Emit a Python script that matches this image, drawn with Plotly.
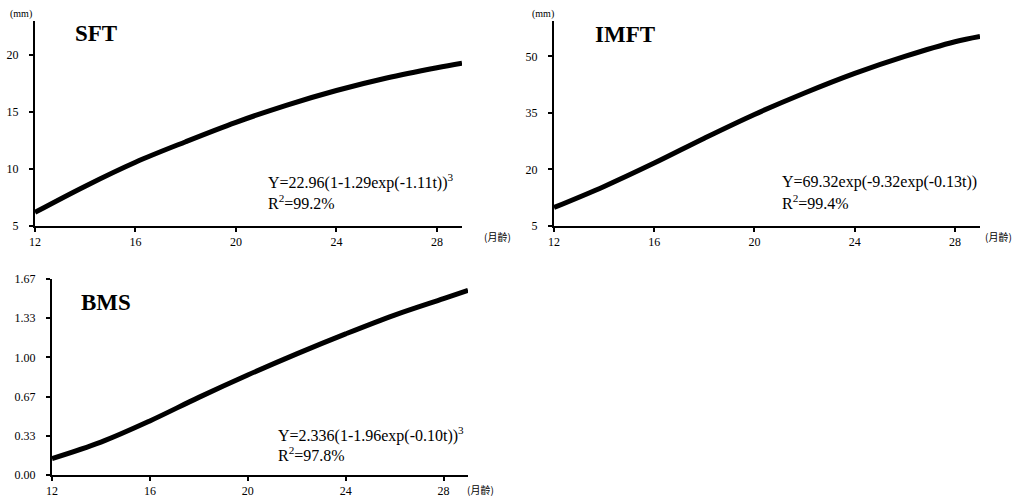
import plotly.graph_objects as go

# ---------------- data ----------------
months = [12, 14, 16, 18, 20, 22, 24, 26, 28, 29]
sft = [6.2, 8.5, 10.6, 12.4, 14.1, 15.6, 16.9, 18.0, 18.9, 19.3]
imft = [9.9, 15.5, 21.7, 28.3, 34.6, 40.3, 45.5, 50.0, 53.9, 55.3]
bms = [0.14, 0.28, 0.46, 0.66, 0.85, 1.03, 1.20, 1.36, 1.50, 1.57]

x_ticks = [12, 16, 20, 24, 28]
sft_ticks = [5, 10, 15, 20]
imft_ticks = [5, 20, 35, 50]
bms_tickvals = [0, 1 / 3, 2 / 3, 1, 4 / 3, 5 / 3]
bms_ticktext = ["0.00", "0.33", "0.67", "1.00", "1.33", "1.67"]

titles = ["SFT", "IMFT", "BMS"]
equations = [
    "Y=22.96(1-1.29exp(-1.11t))<sup>3</sup>",
    "Y=69.32exp(-9.32exp(-0.13t))",
    "Y=2.336(1-1.96exp(-0.10t))<sup>3</sup>",
]
r2 = ["R<sup>2</sup>=99.2%", "R<sup>2</sup>=99.4%", "R<sup>2</sup>=97.8%"]

FONT = "Liberation Serif"
W, H = 1025, 499

fig = go.Figure()
series = [sft, imft, bms]
for i, ys in enumerate(series):
    sfx = "" if i == 0 else str(i + 1)
    fig.add_trace(go.Scatter(
        x=months, y=ys, mode="lines", line=dict(color="black", width=5, shape="spline"),
        xaxis="x" + sfx, yaxis="y" + sfx, showlegend=False, hoverinfo="skip"))

# pixel boxes: (left, right, top, bottom)
boxes = [(35, 462, 21, 226), (554, 980, 21, 226), (52, 468, 279, 475)]


def dom(b):
    l, r, t, btm = b
    return [l / W, r / W], [1 - btm / H, 1 - t / H]


axis_common = dict(showgrid=False, zeroline=False, showline=True, linecolor="black",
                   linewidth=2, ticks="outside", tickcolor="black", tickwidth=1.5,
                   ticklen=4, automargin=False,
                   tickfont=dict(family=FONT, size=12, color="black"))

yranges = [[5, 23], [5, 59.4], [0, 5 / 3]]
layout = dict(width=W, height=H, margin=dict(l=0, r=0, t=0, b=0, autoexpand=False),
              plot_bgcolor="white", paper_bgcolor="white", showlegend=False)
for i, b in enumerate(boxes):
    xd, yd = dom(b)
    sfx = "" if i == 0 else str(i + 1)
    layout["xaxis" + sfx] = dict(axis_common, domain=xd, range=[12, 29], tickvals=x_ticks,
                                 anchor="y" + sfx)
    ya = dict(axis_common, domain=yd, range=yranges[i], anchor="x" + sfx, ticklabelstandoff=8)
    if i == 0:
        ya["tickvals"] = sft_ticks
    elif i == 1:
        ya["tickvals"] = imft_ticks
    else:
        ya["tickvals"] = bms_tickvals
        ya["ticktext"] = bms_ticktext
    layout["yaxis" + sfx] = ya
fig.update_layout(**layout)


def px(x, y):
    return x / W, 1 - y / H


ann = []
# titles
for (tx, ty), t in zip([(73, 34), (593, 35), (79, 302)], titles):
    x, y = px(tx, ty)
    ann.append(dict(x=x, y=y, xref="paper", yref="paper", text="<b>" + t + "</b>",
                    showarrow=False, xanchor="left", yanchor="middle",
                    font=dict(family=FONT, size=23, color="black")))
# equations
for (ex, ey), e, r in zip([(266, 182), (780, 182), (276, 434)], equations, r2):
    x, y = px(ex, ey)
    ann.append(dict(x=x, y=y, xref="paper", yref="paper", text=e, showarrow=False,
                    xanchor="left", yanchor="middle",
                    font=dict(family=FONT, size=16, color="black")))
    x, y = px(ex, ey + 20)
    ann.append(dict(x=x, y=y, xref="paper", yref="paper", text=r, showarrow=False,
                    xanchor="left", yanchor="middle",
                    font=dict(family=FONT, size=16, color="black")))
# unit labels
for ux, uy in [(21, 14), (543, 14)]:
    x, y = px(ux, uy)
    ann.append(dict(x=x, y=y, xref="paper", yref="paper", text="(mm)", showarrow=False,
                    xanchor="center", yanchor="middle",
                    font=dict(family=FONT, size=10, color="black")))
for ux, uy in [(482, 237), (983, 237), (465, 489)]:
    x, y = px(ux, uy)
    ann.append(dict(x=x, y=y, xref="paper", yref="paper", text="(月齡)", showarrow=False,
                    xanchor="left", yanchor="middle",
                    font=dict(family="Noto Sans CJK TC", size=10, color="black")))
fig.update_layout(annotations=ann)

fig.write_html(
    "out.html",
    config={"displayModeBar": False},
    post_script="document.body.style.margin='0';document.body.style.overflow='hidden';",
)
